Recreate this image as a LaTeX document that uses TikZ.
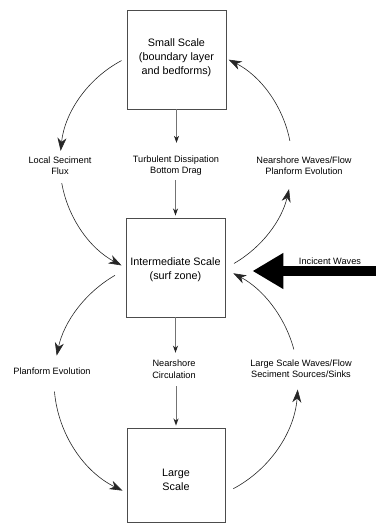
\documentclass[tikz,border=0pt]{standalone}
\usepackage{fontspec}
\setmainfont{Liberation Sans}
\usetikzlibrary{arrows.meta}
\begin{document}
\begin{tikzpicture}[x=1pt,y=1pt,
 box/.style={draw=black!70,line width=0.9pt,minimum width=99pt,minimum height=99pt,inner sep=0pt},
 boxtext/.style={font=\fontsize{10.8}{14}\selectfont,align=center,inner sep=0pt},
 lab/.style={font=\fontsize{9.2}{11.5}\selectfont,align=center,inner sep=0pt},
 cyc/.style={draw=black!85,line width=0.6pt,-{Stealth[length=13pt,width=9pt,inset=4pt]}},
 vert/.style={draw=black!55,line width=1pt,-{Stealth[length=7pt,width=5pt,inset=2pt,color=black!85]}},
]
\useasboundingbox (0,0) rectangle (375,524);
% boxes
\node[box] (small) at (176.5,464.5) {};
\node[box] (mid) at (175.5,256.5) {};
\node[box,minimum width=98pt,minimum height=94pt] (large) at (176,49) {};
\node[boxtext] (smallt) at (176.5,466.5) {Small Scale\\(boundary layer\\and bedforms)};
\node[boxtext] (midt) at (175.5,254) {Intermediate Scale\\(surf zone)};
\node[boxtext] (larget) at (176,44) {Large\\Scale};
% labels
\node[lab] (lsf) at (60,358.5) {Local Seciment\\Flux};
\node[lab] (tdl) at (176,358.5) {Turbulent Dissipation\\Bottom Drag};
\node[lab] (nwf) at (304,358.5) {Nearshore Waves/Flow\\Planform Evolution};
\node[lab] (pe) at (52,153) {Planform Evolution};
\node[lab] (nc) at (174,155) {Nearshore\\Circulation};
\node[lab] (lsw) at (301,155.5) {Large Scale Waves/Flow\\Seciment Sources/Sinks};
\node[lab] (iwl) at (330,263) {Incicent Waves};
% circle centres
\coordinate (ctop) at (176,361);
\coordinate (cbot) at (176,143);
% vertical arrows
\draw[vert,shorten >=12.4pt] (small.south) -- (small.south |- tdl.north);
\draw[vert,shorten <=4.4pt,shorten >=2pt] (tdl.south -| mid.north) -- (mid.north);
\draw[vert,shorten >=6.9pt] (mid.south) -- (mid.south |- nc.north);
\draw[vert,shorten <=7.9pt,shorten >=2pt] (nc.south -| large.north) -- (large.north);
% upper cycle
\draw[cyc] ([shift={(118:116pt)}]ctop) arc[start angle=118,end angle=174,radius=116pt];
\draw[cyc] ([shift={(190:116pt)}]ctop) arc[start angle=190,end angle=242,radius=116pt];
\draw[cyc] ([shift={(-60:116pt)}]ctop) arc[start angle=-60,end angle=-13,radius=116pt];
\draw[cyc] ([shift={(11:116pt)}]ctop) arc[start angle=11,end angle=63,radius=116pt];
% lower cycle
\draw[cyc] ([shift={(120:122pt)}]cbot) arc[start angle=120,end angle=168,radius=122pt];
\draw[cyc] ([shift={(185:122pt)}]cbot) arc[start angle=185,end angle=244,radius=122pt];
\draw[cyc] ([shift={(-62:122pt)}]cbot) arc[start angle=-62,end angle=-4,radius=122pt];
\draw[cyc] ([shift={(15:122pt)}]cbot) arc[start angle=15,end angle=62,radius=122pt];
% incident waves
\coordinate (iwstart) at (376,253);
\draw[line width=10pt,-{Triangle[length=31pt,width=34pt]}] (iwstart) -- (mid.east |- iwstart) [shorten >=27pt];
\end{tikzpicture}
\end{document}
